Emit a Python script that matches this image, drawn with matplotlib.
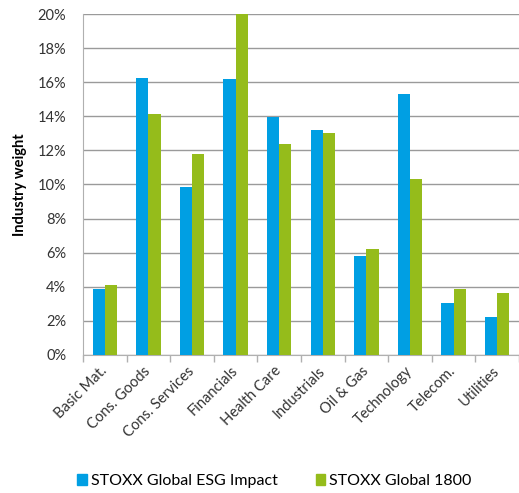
import numpy as np
from matplotlib import pyplot as plt
from matplotlib.ticker import FuncFormatter, MultipleLocator, FixedLocator
from matplotlib.patches import Patch

categories = ['Basic Mat.', 'Cons. Goods', 'Cons. Services', 'Financials', 'Health Care',
              'Industrials', 'Oil & Gas', 'Technology', 'Telecom.', 'Utilities']
esg_impact = [3.85, 16.26, 9.83, 16.2, 13.98, 13.2, 5.81, 15.33, 3.07, 2.25]
global_1800 = [4.12, 14.13, 11.79, 20.0, 12.36, 13.0, 6.24, 10.32, 3.85, 3.62]
series_names = ['STOXX Global ESG Impact', 'STOXX Global 1800']

blue = '#009fe3'
green = '#95bc1b'


def main():
    plt.rcParams['font.family'] = ['Lato', 'DejaVu Sans']
    fig = plt.figure(figsize=(5.19, 4.93), dpi=100)
    ax = fig.add_axes([0.16, 0.28, 0.84, 0.6916])

    x = np.arange(len(categories))
    w = 0.28
    ax.bar(x - w / 2, esg_impact, w, color=blue, zorder=3)
    ax.bar(x + w / 2, global_1800, w, color=green, zorder=3)

    ax.set_xlim(-0.5, len(categories) - 0.5)
    ax.set_ylim(0, 20)
    ax.yaxis.set_major_locator(MultipleLocator(2))
    ax.yaxis.set_major_formatter(FuncFormatter(lambda v, p: f'{v:.0f}%'))
    ax.grid(axis='y', color='#9a9a9a', linewidth=1, zorder=0)

    ax.set_xticks(x)
    ax.set_xticklabels(categories, rotation=45, ha='right', va='center',
                       rotation_mode='anchor', fontsize=10.5, color='#333333')
    ax.tick_params(axis='x', which='major', length=0, pad=10)
    ax.xaxis.set_minor_locator(FixedLocator(np.arange(-0.5, len(categories), 1)))
    ax.tick_params(axis='x', which='minor', length=5, color='#b0b0b0', width=1)
    ax.tick_params(axis='y', length=0, labelsize=10.5, labelcolor='#333333', pad=12)

    for s in ['top', 'right']:
        ax.spines[s].set_visible(False)
    ax.spines['left'].set_color('#b0b0b0')
    ax.spines['bottom'].set_color('#b0b0b0')

    ax.set_ylabel('Industry weight', fontsize=10.5, fontweight='bold', labelpad=8)

    handles = [Patch(color=blue), Patch(color=green)]
    fig.legend(handles, series_names, loc='center left', bbox_to_anchor=(77 / 519, 0.024),
               ncol=2, frameon=False, fontsize=11.5, handlelength=0.6, handleheight=0.6,
               handletextpad=0.25, columnspacing=2.4, borderpad=0, borderaxespad=0)

    fig.savefig('out.png', dpi=100)


if __name__ == '__main__':
    main()
